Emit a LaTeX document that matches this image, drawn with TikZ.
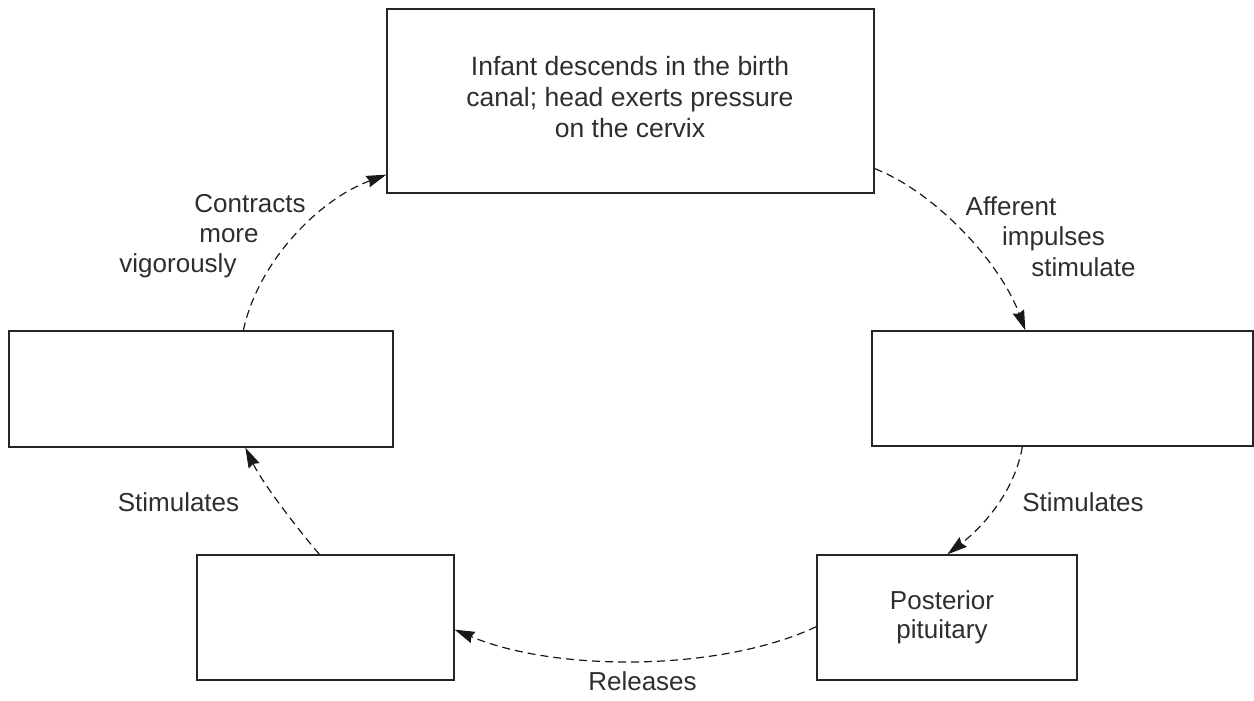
\documentclass[tikz,border=0pt]{standalone}
\usepackage{fontspec}
\setmainfont{Liberation Sans}
\usetikzlibrary{arrows.meta,calc}
\begin{document}
\begin{tikzpicture}[x=1pt,y=-1pt,
  box/.style={draw=black!85,line width=1.3pt,inner sep=0pt},
  lbl/.style={font=\fontsize{26}{31}\selectfont,text=black!82,align=center,inner sep=0pt},
  bl/.style={lbl,anchor=base},
  conn/.style={draw=black!90,line width=1.2pt,dash pattern=on 8pt off 5pt,
    -{Stealth[length=20pt,width=12pt,inset=2pt]}}]
\useasboundingbox (0,0) rectangle (1254,701);
\node[box,minimum width=487pt,minimum height=184pt] (top) at (630.5,101) {};
\node[lbl,font=\fontsize{26.5}{31}\selectfont] (toptext) at (630,97.5) {Infant descends in the birth\\canal; head exerts pressure\\on the cervix};
\node[box,minimum width=384pt,minimum height=116pt] (left) at (201,389) {};
\node[box,minimum width=381pt,minimum height=115pt] (right) at (1062.5,388.5) {};
\node[box,minimum width=257pt,minimum height=125pt] (bl) at (325.5,617.5) {};
\node[box,minimum width=260pt,minimum height=125pt] (br) at (947,617.5) {};
\node[lbl,font=\fontsize{26}{29}\selectfont] (posttext) at (942,617) {Posterior\\pituitary};

\draw[conn] ([yshift=25pt]top.south east) .. controls (935,192) and (1000,262) .. ([xshift=154pt]right.north west);
\draw[conn] ([xshift=151pt]right.south west) .. controls (1015,490) and (985,525) .. ([xshift=131pt]br.north west);
\draw[conn] ([yshift=54pt]br.south west) .. controls (720,672) and (555,672) .. ([yshift=51pt]bl.south east);
\draw[conn] ([xshift=123pt]bl.north west) .. controls (292,522) and (262,482) .. ([xshift=237pt]left.south west);
\draw[conn] ([xshift=235pt]left.north west) .. controls (258,262) and (318,200) .. ([yshift=19pt]top.south west);

\node[bl] (aff1) at (1011,215) {Afferent};
\node[bl] (aff2) at (1053.5,245) {impulses};
\node[bl] (aff3) at (1083.5,276) {stimulate};
\node[bl] (con1) at (250,212) {Contracts};
\node[bl] (con2) at (229,242) {more};
\node[bl] (con3) at (178,272) {vigorously};
\node[bl] (stl) at (178.5,511) {Stimulates};
\node[bl] (str) at (1083,511) {Stimulates};
\node[bl] (rel) at (642.5,690) {Releases};
\end{tikzpicture}
\end{document}
